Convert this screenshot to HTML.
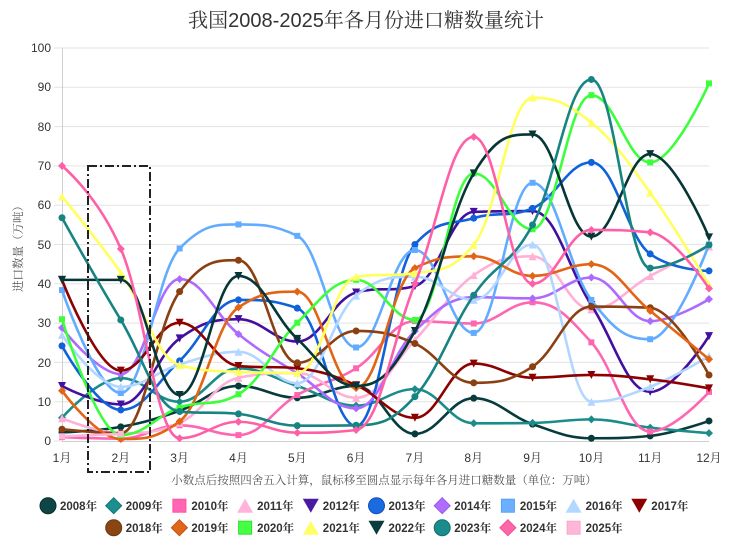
<!DOCTYPE html>
<html><head><meta charset="utf-8">
<style>
html,body{margin:0;padding:0;background:#fff;}
svg{display:block;}
text{font-family:"Liberation Sans","Noto Serif CJK SC",serif;}
</style></head>
<body>
<svg id="c" width="740" height="551" viewBox="0 0 740 551" xmlns="http://www.w3.org/2000/svg">
<rect x="0" y="0" width="740" height="551" fill="#fff"/>
<text x="366" y="27" text-anchor="middle" font-size="20" fill="#333">我国2008-2025年各月份进口糖数量统计</text>
<g id="grid" stroke="#e3e3e3" stroke-width="1"></g>
<line x1="62.5" y1="48" x2="62.5" y2="441" stroke="#d0d0d0" stroke-width="1"/>
<line x1="62" y1="441.5" x2="709" y2="441.5" stroke="#cfcfcf" stroke-width="1"/>
<g font-size="12" fill="#333" text-anchor="end">
<text x="51" y="52">100</text>
<text x="51" y="91">90</text>
<text x="51" y="131">80</text>
<text x="51" y="170">70</text>
<text x="51" y="209">60</text>
<text x="51" y="249">50</text>
<text x="51" y="288">40</text>
<text x="51" y="327">30</text>
<text x="51" y="367">20</text>
<text x="51" y="406">10</text>
<text x="51" y="445">0</text>
</g>
<g font-size="12" fill="#333" text-anchor="middle">
<text x="62" y="462">1月</text>
<text x="120.8" y="462">2月</text>
<text x="179.6" y="462">3月</text>
<text x="238.5" y="462">4月</text>
<text x="297.3" y="462">5月</text>
<text x="356.1" y="462">6月</text>
<text x="414.9" y="462">7月</text>
<text x="473.7" y="462">8月</text>
<text x="532.6" y="462">9月</text>
<text x="591.4" y="462">10月</text>
<text x="650.2" y="462">11月</text>
<text x="709" y="462">12月</text>
</g>
<text transform="translate(22,246) rotate(-90)" text-anchor="middle" font-size="11.5" fill="#555">进口数量（万吨）</text>
<g id="series"></g>
<rect x="88" y="166" width="62" height="306" fill="none" stroke="#222" stroke-width="2" stroke-dasharray="9,3,2,3"/>
<text x="384" y="484" text-anchor="middle" font-size="11.5" fill="#555">小数点后按照四舍五入计算，鼠标移至圆点显示每年各月进口糖数量（单位：万吨）</text>
<g id="legendm"></g>
<g font-size="11.5" font-weight="bold" fill="#333">
<text x="60" y="510">2008年</text>
<text x="125.7" y="510">2009年</text>
<text x="191.4" y="510">2010年</text>
<text x="257.1" y="510">2011年</text>
<text x="322.8" y="510">2012年</text>
<text x="388.5" y="510">2013年</text>
<text x="454.2" y="510">2014年</text>
<text x="519.9" y="510">2015年</text>
<text x="585.6" y="510">2016年</text>
<text x="651.3" y="510">2017年</text>
<text x="125.7" y="532">2018年</text>
<text x="191.4" y="532">2019年</text>
<text x="257.1" y="532">2020年</text>
<text x="322.8" y="532">2021年</text>
<text x="388.5" y="532">2022年</text>
<text x="454.2" y="532">2023年</text>
<text x="519.9" y="532">2024年</text>
<text x="585.6" y="532">2025年</text>
</g>
</svg>
<script>
(function(){
var NS="http://www.w3.org/2000/svg";
function el(tag,attrs,parent){var e=document.createElementNS(NS,tag);for(var k in attrs)e.setAttribute(k,attrs[k]);parent.appendChild(e);return e;}
var grid=document.getElementById('grid');
for(var k=1;k<=10;k++){var y=441-39.3*k;el('line',{x1:54,y1:y.toFixed(1),x2:709,y2:y.toFixed(1)},grid);}
el('line',{x1:54,y1:441,x2:62,y2:441},grid);

var colors=['#083c3c','#1a8c8a','#ff66b2','#ffb0d6','#430f9e','#0f62d9','#ad6aff','#62acff','#b2d6ff','#8c0000','#8a4010','#e26414','#3cff3c','#ffff5e','#063636','#178482','#ff5fa6','#ffb6da'];
var data=[
[2.2,3.6,7.7,14,11,14,1.8,10.9,4.3,0.7,1.3,5.1],
[5.9,16,10,18.5,14,9,13.2,4.5,4.6,5.5,3.4,2],
[1,0.6,4,1.5,11.7,18.5,30.5,29.9,35.3,25.1,2.4,12.5],
[5.8,2,4.6,16.1,17.3,11,25.7,42.2,47,33.5,42,49.5],
[14,9.3,26.1,31,25.3,37.8,39.4,58.3,58.5,34.6,12.5,26.7],
[24.2,7.9,20.4,35.9,33.8,3.8,50,56.7,59.2,70.9,47.6,43.3],
[28.8,17,41.2,27.2,17.2,8.3,28,36.6,36.3,41.6,30.5,36.1],
[38.4,12.2,49,55.1,52.2,23.8,48.6,27.5,65.7,35.9,25.9,50],
[27,13.8,19.5,22.7,14.7,37,41.8,35.9,50,10,13.8,21.6],
[41,17.9,30.1,19.1,18.5,14.2,5.9,19.7,16.1,16.8,15.7,13.4],
[3,2,38,46,19.9,28,24.8,14.8,18.9,34.2,33.9,16.8],
[12.8,0.5,5,34,38,13.5,44,47,42,45,33.1,20.8],
[31,1.5,8.5,11.9,30.1,41,30.8,68.1,53.9,88,70.9,91],
[62.2,42.8,19.3,17.6,17.3,41.8,42.7,49.9,87.4,81,63.2,39.7],
[41,41,11.7,42,26,14,28,68.1,78,52,73,51.8],
[56.8,30.8,7.5,6.9,3.9,4,11.3,37.1,55,92,44,49.9],
[70,48.9,0.7,4.9,2.1,2.8,40,77.4,40,53.7,53.1,38.8],
[1.2,1.8]
];
var syms=['circle','diamond','square','triangle','triangle-down'];
function X(i){return 62+i*58.818;}
function Y(v){return 441-v*3.93;}
function spline(pts){
  var sm=1.5,den=2.5,ctrl=[];
  for(var i=0;i<pts.length;i++)ctrl.push(null);
  for(var i=1;i<pts.length-1;i++){
    var p=pts[i],l=pts[i-1],n=pts[i+1];
    var lcx=(sm*p.x+l.x)/den,lcy=(sm*p.y+l.y)/den,rcx=(sm*p.x+n.x)/den,rcy=(sm*p.y+n.y)/den;
    var corr=0;
    if(rcx!==lcx)corr=((rcy-lcy)*(rcx-p.x))/(rcx-lcx)+p.y-rcy;
    lcy+=corr;rcy+=corr;
    if(lcy>l.y&&lcy>p.y){lcy=Math.max(l.y,p.y);rcy=2*p.y-lcy;}
    else if(lcy<l.y&&lcy<p.y){lcy=Math.min(l.y,p.y);rcy=2*p.y-lcy;}
    if(rcy>n.y&&rcy>p.y){rcy=Math.max(n.y,p.y);lcy=2*p.y-rcy;}
    else if(rcy<n.y&&rcy<p.y){rcy=Math.min(n.y,p.y);lcy=2*p.y-rcy;}
    ctrl[i]={lcx:lcx,lcy:lcy,rcx:rcx,rcy:rcy};
  }
  var d='M'+pts[0].x.toFixed(2)+' '+pts[0].y.toFixed(2);
  for(var i=1;i<pts.length;i++){
    var q=pts[i-1],p=pts[i],a=ctrl[i-1],b=ctrl[i];
    var c1x=a?a.rcx:q.x,c1y=a?a.rcy:q.y,c2x=b?b.lcx:p.x,c2y=b?b.lcy:p.y;
    d+=' C'+c1x.toFixed(2)+' '+c1y.toFixed(2)+' '+c2x.toFixed(2)+' '+c2y.toFixed(2)+' '+p.x.toFixed(2)+' '+p.y.toFixed(2);
  }
  return d;
}
function marker(g,sym,x,y,r,fill,stroke,sw){
  var a={fill:fill};
  if(stroke){a.stroke=stroke;a['stroke-width']=sw;}
  if(sym==='circle'){a.cx=x;a.cy=y;a.r=r;el('circle',a,g);}
  else if(sym==='square'){a.x=x-r;a.y=y-r;a.width=2*r;a.height=2*r;el('rect',a,g);}
  else{
    var pts;
    if(sym==='diamond')pts=[[x,y-r],[x+r,y],[x,y+r],[x-r,y]];
    else if(sym==='triangle')pts=[[x,y-r],[x+r,y+r],[x-r,y+r]];
    else pts=[[x-r,y-r],[x+r,y-r],[x,y+r]];
    a.points=pts.map(function(p){return p[0].toFixed(2)+','+p[1].toFixed(2);}).join(' ');
    el('polygon',a,g);
  }
}
var sg=document.getElementById('series');
for(var s=0;s<data.length;s++){
  var pts=data[s].map(function(v,i){return {x:X(i),y:Y(v)};});
  var g=el('g',{},sg);
  if(pts.length>1)el('path',{d:spline(pts),fill:'none',stroke:colors[s],'stroke-width':2.6,'stroke-linejoin':'round','stroke-linecap':'round'},g);
  for(var i=0;i<pts.length;i++){
    var sym=syms[s%5];
    var r=sym==='square'?3:(sym==='circle'?3.5:4);
    marker(g,sym,pts[i].x,pts[i].y,r,colors[s]);
  }
}
var lg=document.getElementById('legendm');
var legColors=['#0e4646','#1a9090','#ff66b3','#ffb3d9','#4a1aa0','#1a6ae0','#b06cff','#6ab0ff','#b3d8ff','#8b0000','#8b4513','#e0661a','#44ff44','#ffff66','#0a3d3d','#1a8c8c','#ff66aa','#ffb6d9'];
var legStroke=['#062e2e','#147474','#ff4fa0','#ffa0cc','#360c80','#0e52bb','#9a55f0','#55a0f0','#a0c8f0','#700000','#703510','#c05010','#30e030','#f0f050','#052a2a','#127070','#f05096','#f8a8cc'];
for(var s=0;s<18;s++){
  var row=s<10?0:1,col=s<10?s:s-9;
  var x=48+col*65.7,y=row?527.7:505.7;
  var sym=syms[s%5];
  var r=sym==='square'?6.5:(sym==='circle'?8:8);
  if(sym==='triangle'){
    el('polygon',{points:(x)+','+(y-7)+' '+(x+8)+','+(y+7)+' '+(x-8)+','+(y+7),fill:legColors[s]},lg);
  }else if(sym==='triangle-down'){
    el('polygon',{points:(x-8)+','+(y-7)+' '+(x+8)+','+(y-7)+' '+(x)+','+(y+7),fill:legColors[s]},lg);
  }else{
    marker(lg,sym,x,y,r,legColors[s],legStroke[s],1);
  }
}
})();
</script>
</body></html>
